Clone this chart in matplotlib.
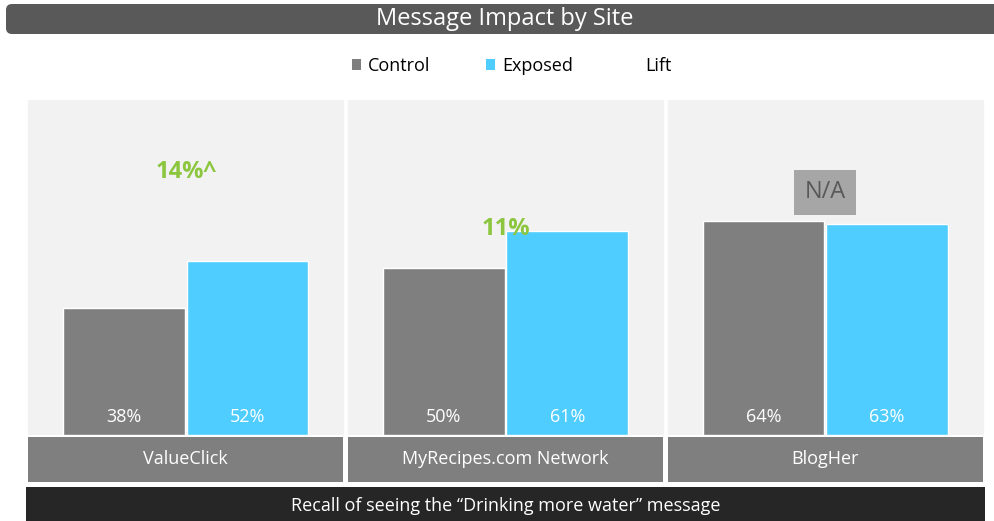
import matplotlib
matplotlib.use("Agg")
import matplotlib.pyplot as plt
from matplotlib.patches import FancyBboxPatch, Patch, Rectangle
import numpy as np

plt.rcParams['font.family'] = ['Open Sans', 'DejaVu Sans']

sites = ["ValueClick", "MyRecipes.com Network", "BlogHer"]
control = [38, 50, 64]
exposed = [52, 61, 63]
lift = ["14%^", "11%", "N/A"]
lift_y = [78.5, 61.5, 72.5]

title = "Message Impact by Site"
footer = "Recall of seeing the \u201cDrinking more water\u201d message"

c_ctrl = "#7f7f7f"
c_exp = "#50cdff"
c_green = "#8cc63f"
c_panel = "#f2f2f2"

W, H = 994, 521
fig = plt.figure(figsize=(W / 100, H / 100), dpi=100)
fig.patch.set_facecolor("white")

# background axes in pixel coordinates, for the title bar
bg = fig.add_axes([0, 0, 1, 1])
bg.set_xlim(0, W)
bg.set_ylim(H, 0)
bg.axis("off")
bg.add_patch(FancyBboxPatch((6, 4), W + 20, 30, boxstyle="round,pad=0,rounding_size=6",
                            fc="#595959", ec="none"))
bg.text(W / 2 + 8, 19, title, color="white", fontsize=17, ha="center", va="center")

def fax(l, t, r, b):
    return fig.add_axes([l / W, 1 - b / H, (r - l) / W, (b - t) / H])

x = np.arange(len(sites))
gap = 0.007
bw = 0.38

ax = fax(26, 100, 985, 435)
ax.set_xlim(-0.5, len(sites) - 0.5)
ax.set_ylim(0, 100)
ax.axis("off")
for i in x:
    ax.axvspan(i - 0.5 + gap, i + 0.5 - gap, color=c_panel, zorder=0)
b1 = ax.bar(x - bw / 2 - 0.003, control, bw, color=c_ctrl, ec="white", lw=1, zorder=2)
b2 = ax.bar(x + bw / 2 + 0.003, exposed, bw, color=c_exp, ec="white", lw=1, zorder=2)
for bars, vals in ((b1, control), (b2, exposed)):
    for r, v in zip(bars, vals):
        ax.text(r.get_x() + r.get_width() / 2, 5.5, f"{v}%", color="white",
                fontsize=13, ha="center", va="center", zorder=3)
for i, (t, y) in enumerate(zip(lift, lift_y)):
    if t == "N/A":
        ax.text(i, y, t, color="#595959", fontsize=17, ha="center", va="center", zorder=3,
                bbox=dict(boxstyle="square,pad=0.45", fc="#a6a6a6", ec="none"))
    else:
        ax.text(i, y, t, color=c_green, fontsize=17, fontweight="bold",
                ha="center", va="center", zorder=3)

# category label strip
lab = fax(26, 437, 985, 482)
lab.set_xlim(-0.5, len(sites) - 0.5)
lab.set_ylim(0, 1)
lab.axis("off")
for i, s in enumerate(sites):
    lab.add_patch(Rectangle((i - 0.5 + gap, 0), 1 - 2 * gap, 1, fc=c_ctrl, ec="none"))
    lab.text(i, 0.5, s, color="white", fontsize=13, ha="center", va="center")

# footer bar
ft = fax(26, 487, 985, 521)
ft.set_xlim(0, 1)
ft.set_ylim(0, 1)
ft.axis("off")
ft.add_patch(Rectangle((0, 0), 1, 1, fc="#262626", ec="none"))
ft.text(0.5, 0.45, footer, color="white", fontsize=13, ha="center", va="center")

handles = [Patch(fc=c_ctrl), Patch(fc=c_exp), Patch(fc="none", ec="none")]
fig.legend(handles, ["Control", "Exposed", "Lift"], loc="center", bbox_to_anchor=(0.515, 1 - 66 / H),
           ncol=3, frameon=False, fontsize=13, handlelength=0.5, handleheight=0.5,
           handletextpad=0.4, columnspacing=3.1)

fig.savefig("out.png", dpi=100)
